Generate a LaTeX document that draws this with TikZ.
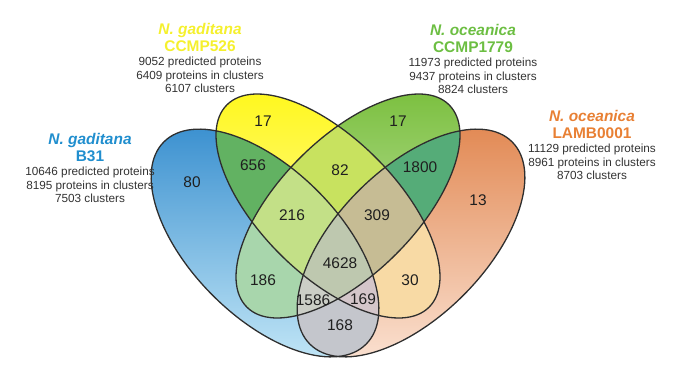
\documentclass[tikz,border=0pt]{standalone}
\usepackage{fontspec}
\setmainfont{Liberation Sans}
\usetikzlibrary{positioning}
\definecolor{gadblue}{RGB}{32,142,206}
\definecolor{gadyel}{RGB}{245,240,45}
\definecolor{ocegreen}{RGB}{108,190,66}
\definecolor{oceorange}{RGB}{232,128,52}
% shading of the four sets, top and bottom
\definecolor{blueT}{RGB}{60,145,208}
\definecolor{blueB}{RGB}{192,229,246}
\definecolor{yelT}{RGB}{255,248,30}
\definecolor{yelB}{RGB}{255,248,190}
\definecolor{grnT}{RGB}{124,192,64}
\definecolor{grnB}{RGB}{208,234,188}
\definecolor{orgT}{RGB}{226,138,85}
\definecolor{orgB}{RGB}{250,224,208}
% overlaps
\definecolor{ovAB}{RGB}{98,178,98}
\definecolor{ovAC}{RGB}{168,214,172}
\definecolor{ovAD}{RGB}{196,198,204}
\definecolor{ovBC}{RGB}{200,226,95}
\definecolor{ovBD}{RGB}{248,218,165}
\definecolor{ovCD}{RGB}{85,172,120}
\definecolor{ovABC}{RGB}{195,224,135}
\definecolor{ovABD}{RGB}{212,198,202}
\definecolor{ovACD}{RGB}{203,206,198}
\definecolor{ovBCD}{RGB}{198,188,148}
\definecolor{ovABCD}{RGB}{190,200,175}
\tikzset{
  elA/.style={shift={(265,122)}, rotate=-45, x radius=143, y radius=74},
  elB/.style={shift={(328,159)}, rotate=-45, x radius=143, y radius=68},
  elC/.style={shift={(348,159)}, rotate=45, x radius=143, y radius=68},
  elD/.style={shift={(411,122)}, rotate=45, x radius=143, y radius=74},
  rim/.style={draw=black!82, line width=1.3bp},
  cnt/.style={font=\fontsize{15.5}{18}\selectfont, text=black!88, inner sep=0pt},
  hdr/.style={font=\fontsize{15.5}{17.5}\selectfont\bfseries, align=center, inner sep=0pt},
  stat/.style={font=\fontsize{11.8}{13.5}\selectfont, text=black!80, align=center, inner sep=0pt},
}

\begin{document}
\begin{tikzpicture}[x=1bp,y=1bp]
\useasboundingbox (0,0) rectangle (675,365);

% ===================== single sets, shaded =====================
\begin{scope}
  \clip[elA] (0,0) ellipse [];
  \shade[top color=blueT, bottom color=blueB] (150,6) rectangle (380,238);
\end{scope}
\begin{scope}
  \clip[elB] (0,0) ellipse [];
  \shade[top color=yelT, bottom color=yelB] (214,45) rectangle (442,273);
\end{scope}
\begin{scope}
  \clip[elC] (0,0) ellipse [];
  \shade[top color=grnT, bottom color=grnB] (234,45) rectangle (462,273);
\end{scope}
\begin{scope}
  \clip[elD] (0,0) ellipse [];
  \shade[top color=orgT, bottom color=orgB] (296,6) rectangle (526,238);
\end{scope}

% ===================== pairs, triples, core =====================
\foreach \p/\q/\c in {A/B/ovAB, A/C/ovAC, A/D/ovAD, B/C/ovBC, B/D/ovBD, C/D/ovCD}{
  \begin{scope}
    \clip[el\p] (0,0) ellipse [];
    \fill[\c, el\q] (0,0) ellipse [];
  \end{scope}
}
\foreach \p/\q/\r/\c in {A/B/C/ovABC, A/B/D/ovABD, A/C/D/ovACD, B/C/D/ovBCD}{
  \begin{scope}
    \clip[el\p] (0,0) ellipse [];
    \clip[el\q] (0,0) ellipse [];
    \fill[\c, el\r] (0,0) ellipse [];
  \end{scope}
}
\begin{scope}
  \clip[elA] (0,0) ellipse [];
  \clip[elB] (0,0) ellipse [];
  \clip[elC] (0,0) ellipse [];
  \fill[ovABCD, elD] (0,0) ellipse [];
\end{scope}

% outlines
\foreach \e in {A,B,C,D}
  \draw[rim, el\e] (0,0) ellipse [];

% ===================== counts =====================
\node[cnt] (nA)    at (192,183) {80};
\node[cnt] (nB)    at (263,244) {17};
\node[cnt] (nC)    at (398,244) {17};
\node[cnt] (nD)    at (478,165) {13};
\node[cnt] (nAB)   at (253,200) {656};
\node[cnt] (nBC)   at (340,195) {82};
\node[cnt] (nCD)   at (420,198) {1800};
\node[cnt] (nABC)  at (292,150) {216};
\node[cnt] (nBCD)  at (377,150) {309};
\node[cnt] (nABCD) at (340,102) {4628};
\node[cnt] (nAC)   at (263,85)  {186};
\node[cnt] (nBD)   at (410,85)  {30};
\node[cnt] (nACD)  at (313,65)  {1586};
\node[cnt] (nABD)  at (363,66)  {169};
\node[cnt] (nAD)   at (340,40)  {168};

% ===================== strain labels =====================
\node[hdr, text=gadblue] (hA) at (90,217.4) {\textit{N. gaditana}\\B31};
\node[stat, anchor=north] (sA) at ([yshift=-5bp]hA.south)
  {10646 predicted proteins\\8195 proteins in clusters\\7503 clusters};

\node[hdr, text=gadyel] (hB) at (200,327.4) {\textit{N. gaditana}\\CCMP526};
\node[stat, anchor=north] (sB) at ([yshift=-5bp]hB.south)
  {9052 predicted proteins\\6409 proteins in clusters\\6107 clusters};

\node[hdr, text=ocegreen] (hC) at (473,326.4) {\textit{N. oceanica}\\CCMP1779};
\node[stat, anchor=north] (sC) at ([yshift=-5bp]hC.south)
  {11973 predicted proteins\\9437 proteins in clusters\\8824 clusters};

\node[hdr, text=oceorange] (hD) at (592,240.4) {\textit{N. oceanica}\\LAMB0001};
\node[stat, anchor=north] (sD) at ([yshift=-5bp]hD.south)
  {11129 predicted proteins\\8961 proteins in clusters\\8703 clusters};

\end{tikzpicture}
\end{document}
